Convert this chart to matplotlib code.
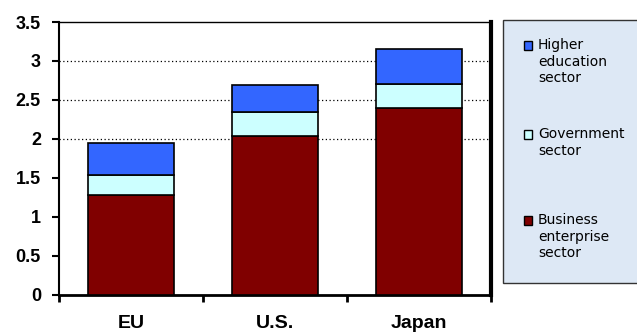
import matplotlib.pyplot as plt
from matplotlib.patches import Rectangle
import numpy as np

REGIONS = ["EU", "U.S.", "Japan"]
BUSINESS = [1.28, 2.03, 2.40]
GOVERNMENT = [0.25, 0.32, 0.31]
HIGHER_ED = [0.41, 0.34, 0.44]

SERIES = [
    ("Business\nenterprise\nsector", BUSINESS, "#800000"),
    ("Government\nsector", GOVERNMENT, "#ccffff"),
    ("Higher\neducation\nsector", HIGHER_ED, "#3366ff"),
]

W, H = 637, 334
fig = plt.figure(figsize=(W / 100, H / 100), dpi=100)
ax = fig.add_axes([59 / W, (H - 294.5) / H, 432 / W, 272.5 / H])

x = np.arange(len(REGIONS))
bottom = np.zeros(len(REGIONS))
for name, vals, color in SERIES:
    ax.bar(x, vals, 0.6, bottom=bottom, color=color, edgecolor="black",
           linewidth=1.2, zorder=3)
    bottom += np.array(vals)

# dotted gridlines only in the upper band
for g in [2, 2.5, 3]:
    ax.axhline(g, color="black", linestyle=(0, (1, 2)), linewidth=0.9, zorder=1)

ax.set_xlim(-0.5, len(REGIONS) - 0.5)
ax.set_ylim(0, 3.5)
ax.set_yticks(np.arange(0, 3.51, 0.5))
ax.set_yticklabels(["0", "0.5", "1", "1.5", "2", "2.5", "3", "3.5"],
                   fontsize=13, fontweight="heavy", family="Liberation Sans")
ax.set_xticks(np.arange(-0.5, len(REGIONS), 1.0))
ax.set_xticklabels([])
ax.set_xticks(x, minor=True)
ax.set_xticklabels(REGIONS, minor=True, fontsize=14, fontweight="heavy",
                   family="Liberation Sans")
ax.tick_params(axis="x", which="minor", length=0, pad=15)
ax.tick_params(axis="x", which="major", length=5, width=2, direction="out")
ax.tick_params(axis="y", length=5, width=1.5, direction="out", pad=8)

ax.spines["left"].set_linewidth(1.5)
ax.spines["bottom"].set_linewidth(2)
ax.spines["top"].set_linewidth(1)
ax.spines["right"].set_linewidth(3)

# legend panel on the right
fig.patches.append(Rectangle((502.5 / W, (H - 282.5) / H), 140 / W, 262.5 / H,
                             transform=fig.transFigure, facecolor="#dde8f5",
                             edgecolor="#333333", linewidth=1))
entries = [(SERIES[2], 41), (SERIES[1], 130), (SERIES[0], 216)]
for (name, vals, color), ytop in entries:
    fig.patches.append(Rectangle((523.5 / W, (H - ytop - 9) / H), 8.5 / W, 9 / H,
                                 transform=fig.transFigure, facecolor=color,
                                 edgecolor="black", linewidth=1))
    fig.text(538 / W, (H - ytop + 2.5) / H, name, fontsize=10, va="top",
             ha="left", family="DejaVu Sans", linespacing=1.2)

fig.savefig("out.png", dpi=100)
